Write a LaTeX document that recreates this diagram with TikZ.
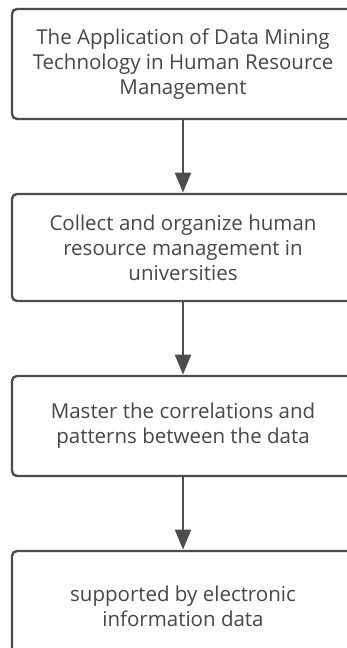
\documentclass[tikz,border=0pt]{standalone}
\usepackage{fontspec}
\setmainfont{Open Sans}
\usetikzlibrary{arrows.meta}
\definecolor{edgegray}{HTML}{4D4D4D}
\definecolor{textgray}{HTML}{474747}
\begin{document}
\begin{tikzpicture}[x=1pt,y=1pt,
  stepbox/.style={draw=edgegray, line width=2.4pt, rounded corners=5pt,
    minimum width=342pt, align=center, text=textgray,
    font=\fontsize{20.5}{25}\selectfont, inner sep=0pt},
  flow/.style={draw=edgegray, line width=2.4pt,
    -{Triangle[length=20pt,width=16pt]}, shorten >=0.2pt}]
\useasboundingbox (0,0) rectangle (347,648);
\clip (0,0) rectangle (347,648);
\fill[white] (0,0) rectangle (347,648);
\node[stepbox, minimum height=110pt] (s1) at (183,584)
  {The Application of Data Mining\\Technology in Human Resource\\Management};
\node[stepbox, minimum height=107pt] (s2) at (183,400.5)
  {Collect and organize human\\resource management in\\universities};
\node[stepbox, minimum height=100pt] (s3) at (183,222)
  {Master the correlations and\\patterns between the data};
\node[stepbox, minimum height=110pt] (s4) at (183,42)
  {supported by electronic\\information data};
\draw[flow] (s1.south) -- (s2.north);
\draw[flow] (s2.south) -- (s3.north);
\draw[flow] (s3.south) -- (s4.north);
\end{tikzpicture}
\end{document}
